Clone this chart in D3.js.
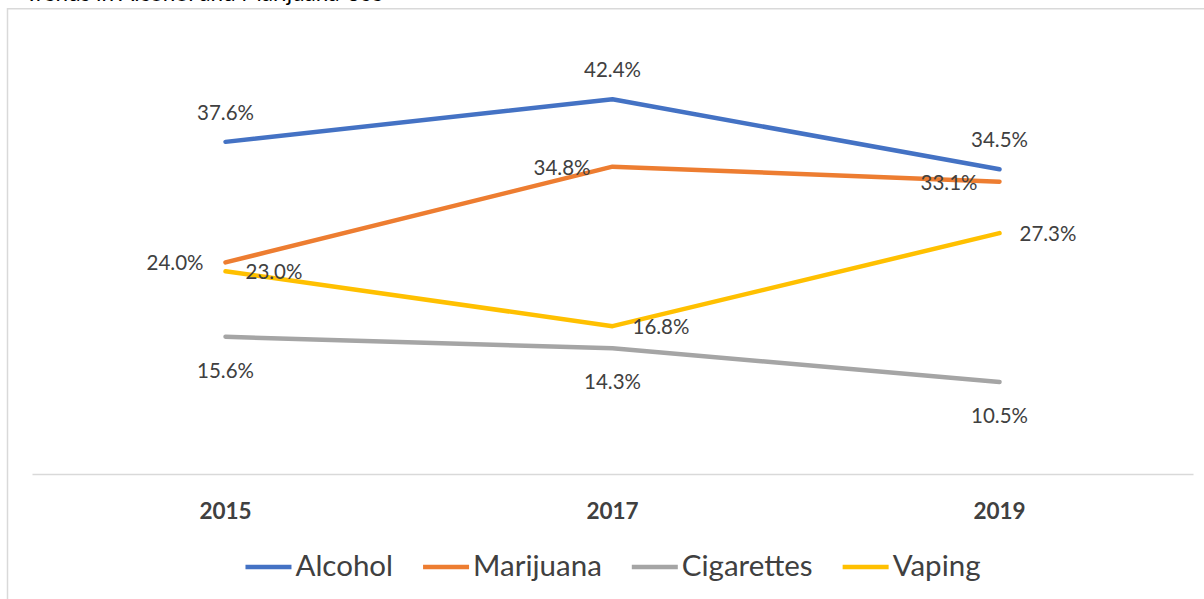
<!DOCTYPE html>
<html>
<head>
<meta charset="utf-8">
<script src="https://cdn.jsdelivr.net/npm/d3@7"></script>
<style>
  html, body { margin: 0; padding: 0; background: #fff; overflow: hidden; }
  svg { display: block; }
</style>
</head>
<body>
<svg id="chart" width="1204" height="599"></svg>
<script>
// Survey years (x categories)
const years = ["2015", "2017", "2019"];

// Percent of students reporting use, by substance
const seriesNames = ["Alcohol", "Marijuana", "Cigarettes", "Vaping"];
const alcohol    = [37.6, 42.4, 34.5];
const marijuana  = [24.0, 34.8, 33.1];
const cigarettes = [15.6, 14.3, 10.5];
const vaping     = [23.0, 16.8, 27.3];

const seriesValues = [alcohol, marijuana, cigarettes, vaping];
const colors = ["#4472C4", "#ED7D31", "#A5A5A5", "#FFC000"];
// where each series places its value labels relative to the point
const labelSides = ["above", "left", "below", "right"];

const svg = d3.select("#chart");
const W = 1204, H = 599;
const FONT = "Lato, 'Open Sans', sans-serif";

// heading (runs off the top edge)
svg.append("text")
  .attr("x", 25).attr("y", 1)
  .attr("font-family", FONT)
  .attr("font-size", 22.5)
  .attr("fill", "#000")
  .text("Trends in Alcohol and Marijuana Use");

// chart frame
svg.append("rect")
  .attr("x", 7.5).attr("y", 8.75)
  .attr("width", W + 20).attr("height", H + 20)
  .attr("fill", "#fff")
  .attr("stroke", "#d9d9d9")
  .attr("stroke-width", 1.5);

const x = d3.scaleBand().domain(years).range([32, 1193]);
const y = d3.scaleLinear().domain([0, 50]).range([475, 32]);
const cx = d => x(d) + x.bandwidth() / 2;

// category axis: baseline plus bold year labels
const xAxis = d3.axisBottom(x).tickSize(0).tickPadding(0);
const gx = svg.append("g")
  .attr("transform", `translate(0,${y(0) - 1})`)
  .call(xAxis);
gx.select(".domain")
  .attr("stroke", "#d9d9d9")
  .attr("stroke-width", 1.5);
gx.selectAll(".tick text")
  .attr("font-family", FONT)
  .attr("font-size", 22.5)
  .attr("font-weight", "bold")
  .attr("fill", "#404040")
  .attr("dy", 0)
  .attr("y", 45);

const line = d3.line()
  .x((d, i) => cx(years[i]))
  .y(d => y(d));

const groups = svg.append("g")
  .selectAll("g")
  .data(seriesNames)
  .join("g");

groups.append("path")
  .attr("d", (n, k) => line(seriesValues[k]))
  .attr("fill", "none")
  .attr("stroke", (n, k) => colors[k])
  .attr("stroke-width", 4.5)
  .attr("stroke-linejoin", "round")
  .attr("stroke-linecap", "round");

// value labels
groups.each(function (n, k) {
  const side = labelSides[k];
  d3.select(this).selectAll("text.val")
    .data(seriesValues[k])
    .join("text")
    .attr("class", "val")
    .attr("font-family", FONT)
    .attr("font-size", 20.5)
    .attr("fill", "#404040")
    .attr("text-anchor", side === "left" ? "end" : side === "right" ? "start" : "middle")
    .attr("x", (d, i) => {
      const px = cx(years[i]);
      if (side === "left") return px - 22;
      if (side === "right") return px + 20;
      return px;
    })
    .attr("y", d => {
      const py = y(d);
      if (side === "above") return py - 22;
      if (side === "below") return py + 41;
      return py + 8;
    })
    .text(d => d.toFixed(1) + "%");
});

// legend
const legend = svg.append("g");
const items = legend.selectAll("g")
  .data(seriesNames)
  .join("g");
items.append("line")
  .attr("x1", 0).attr("x2", 46)
  .attr("y1", 0).attr("y2", 0)
  .attr("stroke", (n, k) => colors[k])
  .attr("stroke-width", 4.5);
items.append("text")
  .attr("x", 50).attr("y", 9)
  .attr("font-family", FONT)
  .attr("font-size", 29.5)
  .attr("fill", "#404040")
  .text(d => d);

let offset = 0;
items.each(function () {
  const g = d3.select(this);
  g.attr("transform", `translate(${offset},0)`);
  const tw = g.select("text").node().getComputedTextLength();
  offset += 50 + tw + 30;
});
const total = offset - 30;
legend.attr("transform", `translate(${613 - total / 2},567)`);
</script>
</body>
</html>
